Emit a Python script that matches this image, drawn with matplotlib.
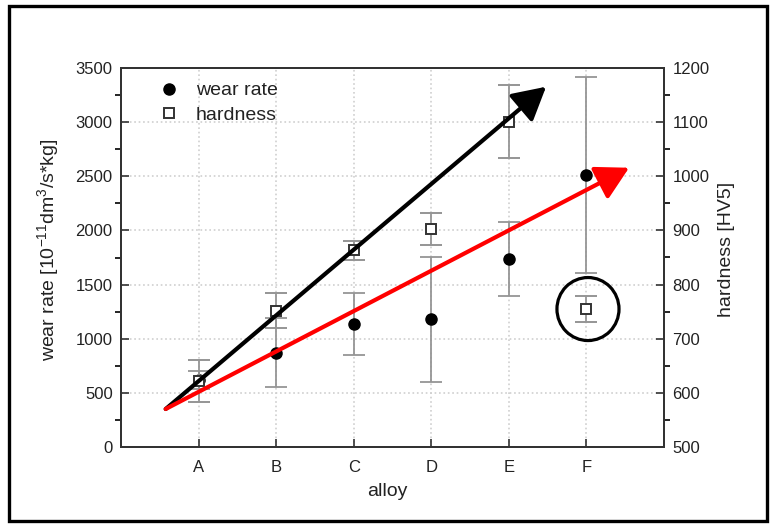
import matplotlib.pyplot as plt
from matplotlib.patches import Ellipse, Rectangle
from matplotlib.lines import Line2D
from matplotlib.ticker import MultipleLocator

plt.rcParams['font.family'] = ['Liberation Sans', 'DejaVu Sans']
plt.rcParams['mathtext.fontset'] = 'custom'
plt.rcParams['mathtext.rm'] = 'Liberation Sans'
plt.rcParams['mathtext.default'] = 'regular'

alloys = ['A', 'B', 'C', 'D', 'E', 'F']
alloy_pos = [1, 2, 3, 4, 5, 6]
wear_rate = [620, 871, 1137, 1180, 1736, 2511]
wear_err = [80, 320, 288, 577, 339, 908]
hardness = [622, 752, 863, 903, 1101, 754]
hardness_err = [38, 33, 18, 30, 67, 24]

# hand-drawn trend arrows and highlight circle (left-axis data coordinates)
arrow_start = (0.576, 351)
black_tip = (5.48, 3327)
red_tip = (6.55, 2579)
circle_center = (6.02, 1274)

AX_COLOR = '#333333'
ERR_COLOR = '#959595'


def style_axis(ax):
    for s in ax.spines.values():
        s.set_color(AX_COLOR)
        s.set_linewidth(1.4)
    ax.tick_params(direction='in', colors=AX_COLOR, labelcolor='#222222', labelsize=12)
    ax.tick_params(which='major', length=6, width=1.2)
    ax.tick_params(which='minor', length=4, width=1.2)


def main():
    fig = plt.figure(figsize=(7.71, 5.29), dpi=100)
    ax = fig.add_axes([121 / 771, 1 - 447 / 529, 543 / 771, 379 / 529])
    ax2 = ax.twinx()

    ax.errorbar(alloy_pos, wear_rate, yerr=wear_err, fmt='o', color='black', ms=8,
                ecolor=ERR_COLOR, elinewidth=1.3, capsize=8, capthick=1.3, zorder=3)
    ax2.errorbar(alloy_pos, hardness, yerr=hardness_err, fmt='s', mfc='white', mec=AX_COLOR,
                 mew=1.4, ms=7, ecolor=ERR_COLOR, elinewidth=1.3, capsize=8, capthick=1.3, zorder=3)

    ax.set_xlim(0, 7)
    ax.set_ylim(0, 3500)
    ax2.set_ylim(500, 1200)
    ax.set_xticks(alloy_pos)
    ax.set_xticklabels(alloys)
    ax.yaxis.set_major_locator(MultipleLocator(500))
    ax.yaxis.set_minor_locator(MultipleLocator(250))
    ax2.yaxis.set_major_locator(MultipleLocator(100))
    ax2.yaxis.set_minor_locator(MultipleLocator(50))

    style_axis(ax)
    style_axis(ax2)
    ax.tick_params(axis='x', pad=9, top=False)
    ax.tick_params(axis='y', pad=6, right=False, which='both')
    ax2.tick_params(axis='y', pad=6, left=False, which='both')

    ax.grid(True, color='#cfcfcf', linestyle=':', linewidth=1.2)
    ax.set_axisbelow(True)

    ax.set_xlabel('alloy', fontsize=14, color='#222222')
    ax.xaxis.set_label_coords(0.49, -0.095)
    ax.set_ylabel('wear rate [10$^{-11}$dm$^{3}$/s*kg]', fontsize=14, color='#222222')
    ax.yaxis.set_label_coords(-0.11, 0.52)
    ax2.set_ylabel('hardness [HV5]', fontsize=14, color='#222222')
    ax2.yaxis.set_label_coords(1.10, 0.52)

    handles = [
        Line2D([], [], marker='o', ls='none', color='black', ms=8),
        Line2D([], [], marker='s', ls='none', mfc='white', mec=AX_COLOR, mew=1.4, ms=7),
    ]
    leg = ax2.legend(handles, ['wear rate', 'hardness'], loc='upper left', frameon=False,
                     fontsize=14, handletextpad=0.4, labelspacing=0.36,
                     bbox_to_anchor=(0.02, 1.01))
    for t in leg.get_texts():
        t.set_color('#222222')

    # trend arrows
    ax2.annotate('', xy=black_tip, xytext=arrow_start, xycoords=ax.transData,
                 textcoords=ax.transData, zorder=5,
                 arrowprops=dict(arrowstyle='-|>,head_length=1.0,head_width=0.55',
                                 mutation_scale=20, lw=3, color='black',
                                 shrinkA=0, shrinkB=0))
    ax2.annotate('', xy=red_tip, xytext=arrow_start, xycoords=ax.transData,
                 textcoords=ax.transData, zorder=5,
                 arrowprops=dict(arrowstyle='-|>,head_length=1.0,head_width=0.55',
                                 mutation_scale=20, lw=3, color='#ff0000',
                                 shrinkA=0, shrinkB=0))

    circ = Ellipse(circle_center, 0.80, 582, transform=ax.transData, fill=False,
                   edgecolor='black', lw=2.3, zorder=6)
    ax2.add_patch(circ)

    # outer frame
    fig.add_artist(Rectangle((9 / 771, 1 - 521 / 529), 758 / 771, 515 / 529,
                             transform=fig.transFigure, fill=False,
                             edgecolor='black', lw=2.4))

    fig.savefig('out.png', dpi=100)


if __name__ == '__main__':
    main()
